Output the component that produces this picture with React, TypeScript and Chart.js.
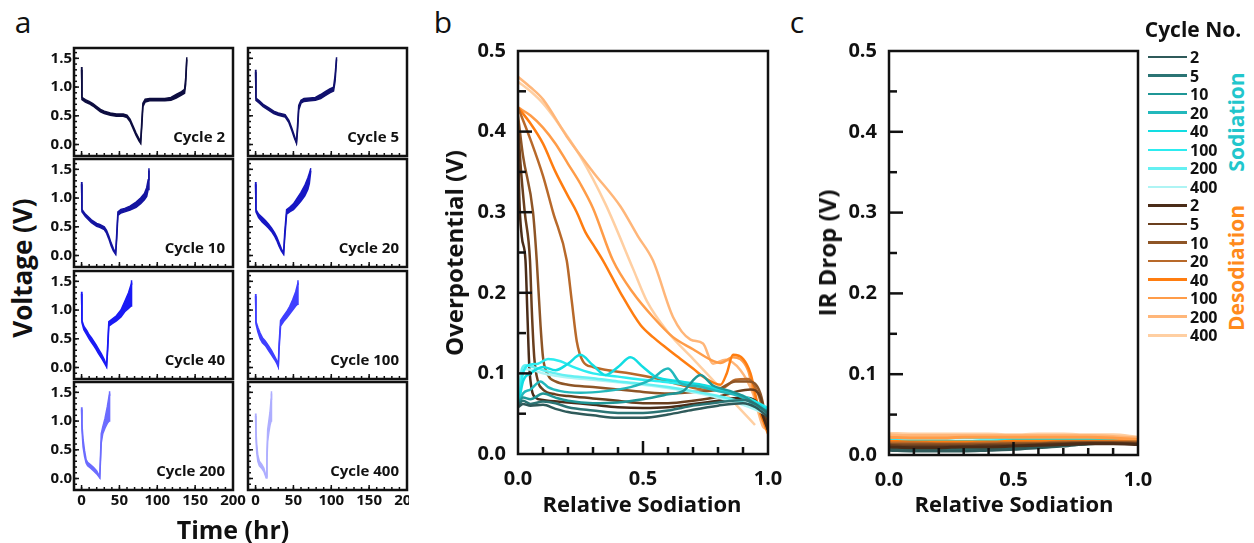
import React, { useEffect, useRef } from 'react';
import { Chart, registerables } from 'chart.js';

Chart.register(...registerables);

const FONT = "'Open Sans', 'DejaVu Sans', sans-serif";
const INK = '#111111';

// ---------------- Panel a : Voltage vs Time ----------------
const A_CYCLE_NAMES = ['Cycle 2', 'Cycle 5', 'Cycle 10', 'Cycle 20', 'Cycle 40', 'Cycle 100', 'Cycle 200', 'Cycle 400'];
const A_COLORS = ['#0d0d40', '#11116e', '#1414a0', '#1717c4', '#1a1af5', '#3f3fff', '#6c6cff', '#aeaeff'];
const A_X_TICKS = [0, 50, 100, 150, 200];
const A_Y_TICKS = [0, 0.5, 1.0, 1.5];
const A_X_MINOR = [0, 10, 20, 30, 40, 50, 60, 70, 80, 90, 100, 110, 120, 130, 140, 150, 160, 170, 180, 190];
const A_X_MAJOR = [0, 50, 100, 150];
const A_Y_MINOR = [-0.1, 0, 0.1, 0.2, 0.3, 0.4, 0.5, 0.6, 0.7, 0.8, 0.9, 1.0, 1.1, 1.2, 1.3, 1.4, 1.5, 1.6];
const A_Y_MAJOR = [0, 0.5, 1.0, 1.5];

const C2_T = [0, 0.5, 5, 10, 15, 20, 25, 30, 38, 46, 55, 60, 64, 68, 72, 76, 78, 79.5, 81, 84, 90, 100, 110, 118, 125, 132, 136, 137.5, 139];
const C2_UP = [1.35, 0.82, 0.78, 0.75, 0.71, 0.66, 0.61, 0.58, 0.55, 0.53, 0.53, 0.51, 0.44, 0.32, 0.2, 0.1, 0.04, 0.4, 0.72, 0.79, 0.8, 0.8, 0.8, 0.82, 0.87, 0.92, 0.96, 1.15, 1.52];
const C2_LO = [1.3, 0.78, 0.74, 0.71, 0.67, 0.62, 0.57, 0.54, 0.51, 0.49, 0.49, 0.47, 0.4, 0.28, 0.16, 0.06, 0.02, 0.3, 0.66, 0.74, 0.76, 0.76, 0.76, 0.77, 0.81, 0.86, 0.89, 1.05, 1.48];

const C5_T = [0, 0.5, 5, 10, 17, 24, 30, 39, 44, 48, 51, 54, 55.5, 57, 60, 64, 72, 79, 86, 92, 98, 103, 105, 107];
const C5_UP = [1.3, 0.81, 0.76, 0.7, 0.64, 0.58, 0.55, 0.52, 0.42, 0.28, 0.16, 0.04, 0.35, 0.68, 0.77, 0.8, 0.81, 0.82, 0.87, 0.92, 0.97, 1.0, 1.2, 1.52];
const C5_LO = [1.26, 0.77, 0.72, 0.66, 0.6, 0.54, 0.51, 0.48, 0.38, 0.24, 0.12, 0.02, 0.25, 0.6, 0.72, 0.75, 0.76, 0.77, 0.8, 0.85, 0.9, 0.93, 1.1, 1.48];

const C10_T = [0, 0.5, 5, 13, 20, 24, 30, 33, 36, 39, 42, 45, 46.5, 48, 52, 57, 64, 72, 78, 83, 86, 88, 89];
const C10_UP = [1.28, 0.8, 0.72, 0.62, 0.56, 0.54, 0.5, 0.44, 0.34, 0.22, 0.12, 0.04, 0.4, 0.76, 0.8, 0.82, 0.86, 0.93, 1.0, 1.08, 1.18, 1.32, 1.52];
const C10_LO = [1.24, 0.76, 0.68, 0.57, 0.51, 0.49, 0.45, 0.39, 0.29, 0.17, 0.08, 0.02, 0.3, 0.7, 0.74, 0.76, 0.79, 0.84, 0.9, 0.97, 1.03, 1.15, 1.48];

const C20_T = [0, 0.5, 4, 9, 13, 17, 21, 25, 28, 31, 34, 37, 38.5, 41, 45, 50, 55, 60, 65, 69, 71, 73];
const C20_UP = [1.28, 0.8, 0.72, 0.66, 0.61, 0.55, 0.48, 0.4, 0.32, 0.22, 0.12, 0.04, 0.4, 0.8, 0.84, 0.9, 1.0, 1.1, 1.22, 1.35, 1.43, 1.52];
const C20_LO = [1.24, 0.76, 0.66, 0.58, 0.53, 0.48, 0.42, 0.34, 0.26, 0.16, 0.08, 0.02, 0.3, 0.72, 0.76, 0.8, 0.87, 0.95, 1.04, 1.15, 1.25, 1.48];

const C40_T = [0, 0.5, 3, 7, 10, 13, 16, 19, 22, 26, 30, 33, 34.5, 36, 40, 46, 52, 57, 62, 65.5, 66];
const C40_UP = [1.32, 0.82, 0.72, 0.64, 0.57, 0.52, 0.46, 0.4, 0.33, 0.24, 0.14, 0.03, 0.4, 0.8, 0.84, 0.9, 1.0, 1.15, 1.3, 1.45, 1.52];
const C40_LO = [1.28, 0.78, 0.66, 0.57, 0.5, 0.44, 0.38, 0.32, 0.25, 0.17, 0.08, 0.01, 0.3, 0.72, 0.76, 0.81, 0.88, 0.97, 1.03, 1.07, 1.48];

const C100_T = [0, 0.5, 3, 6, 9, 13, 17, 21, 25, 28, 30, 31, 33, 37, 41, 45, 49, 53, 55.5, 56];
const C100_UP = [1.28, 0.8, 0.7, 0.6, 0.52, 0.46, 0.38, 0.3, 0.2, 0.12, 0.03, 0.4, 0.82, 0.9, 0.97, 1.06, 1.18, 1.32, 1.45, 1.52];
const C100_LO = [1.24, 0.76, 0.62, 0.5, 0.43, 0.38, 0.3, 0.22, 0.14, 0.07, 0.01, 0.3, 0.72, 0.8, 0.86, 0.93, 1.0, 1.07, 1.1, 1.48];

const C200_T = [0, 0.5, 2, 4, 6, 8, 12, 16, 20, 24, 25, 26, 28, 31, 34, 36.5, 37];
const C200_UP = [1.24, 0.95, 0.68, 0.48, 0.33, 0.28, 0.24, 0.19, 0.13, 0.03, 0.4, 0.78, 0.9, 1.05, 1.25, 1.45, 1.52];
const C200_LO = [1.2, 0.85, 0.55, 0.38, 0.27, 0.22, 0.18, 0.13, 0.08, 0.01, 0.3, 0.62, 0.78, 0.88, 0.96, 1.0, 1.48];

const C400_T = [0, 0.5, 1.5, 3, 5, 8, 11, 14, 15, 16, 17.5, 19, 20.5, 21];
const C400_UP = [1.13, 0.85, 0.6, 0.4, 0.3, 0.25, 0.18, 0.03, 0.45, 0.85, 1.0, 1.15, 1.38, 1.52];
const C400_LO = [1.09, 0.7, 0.45, 0.3, 0.22, 0.18, 0.12, 0.01, 0.3, 0.65, 0.8, 0.92, 1.0, 1.48];

const A_T = [C2_T, C5_T, C10_T, C20_T, C40_T, C100_T, C200_T, C400_T];
const A_UP = [C2_UP, C5_UP, C10_UP, C20_UP, C40_UP, C100_UP, C200_UP, C400_UP];
const A_LO = [C2_LO, C5_LO, C10_LO, C20_LO, C40_LO, C100_LO, C200_LO, C400_LO];

// ---------------- Legend / cycles ----------------
const CYCLE_LABELS = ['2', '5', '10', '20', '40', '100', '200', '400'];
const SOD_COLORS = ['#2f5a5a', '#2b7474', '#1f9696', '#22b8bc', '#12dde2', '#2cecf0', '#64f0f2', '#aef4f4'];
const DESOD_COLORS = ['#4a2c18', '#6a3f1e', '#8e5526', '#b8692a', '#ff7d10', '#ff9c48', '#ffb679', '#ffcfa2'];

// ---------------- Panel b : Overpotential ----------------
const OP_SOD_X = [
  [0, 0.02, 0.05, 0.1, 0.15, 0.2, 0.3, 0.4, 0.5, 0.6, 0.7, 0.8, 0.9, 0.95, 1.0],
  [0, 0.02, 0.05, 0.1, 0.15, 0.2, 0.3, 0.4, 0.5, 0.6, 0.7, 0.8, 0.9, 0.95, 1.0],
  [0, 0.02, 0.05, 0.1, 0.15, 0.2, 0.3, 0.4, 0.5, 0.6, 0.66, 0.73, 0.78, 0.85, 0.9, 0.95, 1.0],
  [0, 0.02, 0.05, 0.09, 0.12, 0.17, 0.25, 0.35, 0.45, 0.53, 0.6, 0.65, 0.72, 0.8, 0.9, 0.95, 1.0],
  [0, 0.02, 0.05, 0.1, 0.15, 0.2, 0.25, 0.3, 0.35, 0.4, 0.45, 0.5, 0.55, 0.65, 0.75, 0.85, 0.92, 1.0],
  [0, 0.02, 0.04, 0.08, 0.12, 0.17, 0.22, 0.3, 0.4, 0.5, 0.6, 0.7, 0.8, 0.9, 0.95, 1.0],
  [0, 0.015, 0.03, 0.06, 0.1, 0.15, 0.2, 0.3, 0.4, 0.5, 0.6, 0.7, 0.8, 0.9, 0.95, 1.0],
  [0, 0.015, 0.03, 0.06, 0.1, 0.15, 0.2, 0.3, 0.4, 0.5, 0.6, 0.7, 0.8, 0.9, 0.95, 1.0],
];
const OP_SOD_Y = [
  [0.058, 0.062, 0.06, 0.061, 0.056, 0.052, 0.048, 0.045, 0.045, 0.049, 0.055, 0.06, 0.063, 0.058, 0.046],
  [0.06, 0.066, 0.062, 0.065, 0.063, 0.058, 0.054, 0.051, 0.051, 0.054, 0.06, 0.064, 0.067, 0.062, 0.05],
  [0.06, 0.07, 0.068, 0.075, 0.07, 0.066, 0.063, 0.064, 0.068, 0.074, 0.078, 0.098, 0.085, 0.078, 0.072, 0.062, 0.052],
  [0.06, 0.075, 0.08, 0.09, 0.083, 0.078, 0.076, 0.078, 0.083, 0.092, 0.106, 0.088, 0.084, 0.078, 0.07, 0.06, 0.053],
  [0.058, 0.09, 0.1, 0.108, 0.104, 0.112, 0.123, 0.11, 0.098, 0.108, 0.12, 0.108, 0.096, 0.09, 0.085, 0.076, 0.068, 0.055],
  [0.06, 0.1, 0.11, 0.112, 0.118, 0.115, 0.108, 0.1, 0.096, 0.092, 0.089, 0.085, 0.08, 0.072, 0.065, 0.057],
  [0.065, 0.105, 0.11, 0.108, 0.104, 0.1, 0.097, 0.094, 0.09, 0.087, 0.083, 0.078, 0.072, 0.064, 0.058, 0.05],
  [0.07, 0.1, 0.105, 0.104, 0.1, 0.097, 0.095, 0.092, 0.089, 0.086, 0.082, 0.077, 0.07, 0.061, 0.055, 0.048],
];
const OP_DESOD_X = [
  [0, 0.005, 0.015, 0.03, 0.038, 0.045, 0.055, 0.07, 0.1, 0.2, 0.3, 0.4, 0.5, 0.6, 0.7, 0.8, 0.9, 0.95, 1.0],
  [0, 0.01, 0.027, 0.048, 0.055, 0.065, 0.08, 0.1, 0.15, 0.2, 0.3, 0.4, 0.5, 0.6, 0.7, 0.8, 0.88, 0.93, 0.97, 1.0],
  [0, 0.02, 0.06, 0.075, 0.09, 0.1, 0.12, 0.15, 0.2, 0.3, 0.4, 0.5, 0.6, 0.7, 0.8, 0.87, 0.92, 0.97, 1.0],
  [0, 0.05, 0.1, 0.14, 0.195, 0.215, 0.235, 0.26, 0.3, 0.36, 0.45, 0.55, 0.65, 0.75, 0.82, 0.87, 0.92, 0.96, 1.0],
  [0, 0.05, 0.1, 0.15, 0.2, 0.235, 0.27, 0.3, 0.34, 0.41, 0.49, 0.54, 0.6, 0.65, 0.7, 0.75, 0.81, 0.835, 0.86, 0.9, 0.93, 0.96, 1.0],
  [0, 0.05, 0.1, 0.15, 0.2, 0.25, 0.3, 0.38, 0.46, 0.54, 0.62, 0.7, 0.77, 0.81, 0.86, 0.92, 0.94, 0.97, 1.0],
  [0, 0.05, 0.1, 0.195, 0.3, 0.41, 0.48, 0.54, 0.62, 0.69, 0.74, 0.78, 0.83, 0.89, 0.94, 0.98, 1.0],
  [0, 0.05, 0.1, 0.15, 0.25, 0.35, 0.46, 0.515, 0.6, 0.7, 0.8, 0.9, 0.948],
];
const OP_DESOD_Y = [
  [0.4, 0.32, 0.27, 0.24, 0.17, 0.11, 0.08, 0.07, 0.067, 0.064, 0.061, 0.058, 0.057, 0.058, 0.062, 0.066, 0.07, 0.066, 0.03],
  [0.41, 0.36, 0.3, 0.24, 0.18, 0.12, 0.09, 0.08, 0.074, 0.072, 0.069, 0.066, 0.063, 0.063, 0.066, 0.071, 0.078, 0.08, 0.07, 0.03],
  [0.42, 0.37, 0.3, 0.24, 0.16, 0.12, 0.098, 0.09, 0.086, 0.083, 0.08, 0.077, 0.075, 0.077, 0.08, 0.09, 0.09, 0.075, 0.03],
  [0.43, 0.39, 0.345, 0.3, 0.24, 0.19, 0.14, 0.115, 0.108, 0.104, 0.1, 0.094, 0.086, 0.08, 0.082, 0.092, 0.093, 0.075, 0.03],
  [0.43, 0.41, 0.385, 0.35, 0.32, 0.3, 0.275, 0.26, 0.24, 0.2, 0.16, 0.145, 0.13, 0.118, 0.106, 0.094, 0.086, 0.1, 0.123, 0.118, 0.1, 0.06, 0.025],
  [0.43, 0.42, 0.405, 0.385, 0.36, 0.335, 0.305, 0.24, 0.2, 0.17, 0.145, 0.13, 0.117, 0.113, 0.12, 0.104, 0.08, 0.05, 0.035],
  [0.468, 0.455, 0.44, 0.394, 0.35, 0.307, 0.27, 0.24, 0.17, 0.142, 0.137, 0.112, 0.117, 0.104, 0.075, 0.034, 0.03],
  [0.462, 0.45, 0.435, 0.415, 0.369, 0.31, 0.23, 0.19, 0.151, 0.118, 0.085, 0.052, 0.036],
];

// ---------------- Panel c : IR drop ----------------
const IR_X = [0, 0.1, 0.2, 0.3, 0.4, 0.5, 0.6, 0.7, 0.8, 0.9, 1.0];
const IR_SOD_Y = [
  [0.006, 0.005, 0.005, 0.005, 0.006, 0.007, 0.009, 0.011, 0.014, 0.015, 0.014],
  [0.008, 0.007, 0.007, 0.007, 0.008, 0.009, 0.01, 0.012, 0.014, 0.015, 0.015],
  [0.01, 0.009, 0.009, 0.009, 0.01, 0.011, 0.012, 0.013, 0.015, 0.016, 0.015],
  [0.013, 0.012, 0.012, 0.012, 0.012, 0.013, 0.014, 0.015, 0.016, 0.016, 0.016],
  [0.018, 0.017, 0.017, 0.017, 0.017, 0.018, 0.018, 0.018, 0.018, 0.018, 0.017],
  [0.022, 0.021, 0.021, 0.022, 0.021, 0.021, 0.021, 0.021, 0.02, 0.02, 0.019],
  [0.024, 0.023, 0.023, 0.024, 0.023, 0.023, 0.023, 0.022, 0.022, 0.021, 0.02],
  [0.021, 0.021, 0.021, 0.022, 0.021, 0.021, 0.021, 0.021, 0.02, 0.02, 0.019],
];
const IR_DESOD_Y = [
  [0.01, 0.009, 0.009, 0.01, 0.01, 0.011, 0.012, 0.013, 0.014, 0.014, 0.013],
  [0.012, 0.011, 0.011, 0.011, 0.012, 0.012, 0.013, 0.014, 0.015, 0.015, 0.014],
  [0.013, 0.013, 0.013, 0.013, 0.013, 0.014, 0.014, 0.015, 0.015, 0.015, 0.015],
  [0.015, 0.015, 0.014, 0.014, 0.015, 0.015, 0.015, 0.016, 0.016, 0.016, 0.016],
  [0.017, 0.016, 0.016, 0.016, 0.016, 0.017, 0.017, 0.017, 0.017, 0.017, 0.016],
  [0.022, 0.021, 0.021, 0.022, 0.022, 0.022, 0.022, 0.022, 0.022, 0.021, 0.019],
  [0.025, 0.024, 0.024, 0.024, 0.024, 0.024, 0.024, 0.024, 0.024, 0.023, 0.021],
  [0.027, 0.026, 0.026, 0.026, 0.026, 0.025, 0.026, 0.026, 0.025, 0.025, 0.022],
];

const BC_Y_TICKS = [0, 0.1, 0.2, 0.3, 0.4, 0.5];
const BC_X_TICKS = [0, 0.5, 1.0];
const BC_Y_MAJOR = [0.1, 0.2, 0.3, 0.4];
const BC_Y_MINOR = [0.05, 0.15, 0.25, 0.35, 0.45];
const BC_X_MAJOR = [0.5];
const BC_X_MINOR = [0.1, 0.2, 0.3, 0.4, 0.6, 0.7, 0.8, 0.9];

// ---------------- helpers ----------------
type Mark = [number, number];

function frameTicks(xMarks: Mark[], yMarks: Mark[], lw: number, tw: number) {
  return {
    id: 'frameTicks',
    afterDatasetsDraw(chart: any) {
      const { ctx, chartArea: ca } = chart;
      const xs = chart.scales.x;
      const ys = chart.scales.y;
      ctx.save();
      ctx.strokeStyle = INK;
      ctx.lineWidth = tw;
      for (const [v, len] of xMarks) {
        const p = xs.getPixelForValue(v);
        ctx.beginPath();
        ctx.moveTo(p, ca.bottom);
        ctx.lineTo(p, ca.bottom - len);
        ctx.stroke();
      }
      for (const [v, len] of yMarks) {
        const p = ys.getPixelForValue(v);
        ctx.beginPath();
        ctx.moveTo(ca.left, p);
        ctx.lineTo(ca.left + len, p);
        ctx.stroke();
      }
      ctx.lineWidth = lw;
      ctx.strokeRect(ca.left, ca.top, ca.right - ca.left, ca.bottom - ca.top);
      ctx.restore();
    },
  };
}

function axis(min: number, max: number, vals: number[], show: boolean, size: number, pad: number, fit: number, isX: boolean, fmt: (v: number) => string) {
  return {
    type: 'linear',
    min,
    max,
    grid: { display: false, drawTicks: false },
    border: { display: false },
    afterBuildTicks: (s: any) => {
      s.ticks = vals.map((v) => ({ value: v }));
    },
    afterFit: (s: any) => {
      if (isX) s.height = fit;
      else s.width = fit;
      s.paddingLeft = 0;
      s.paddingRight = 0;
      s.paddingTop = 0;
      s.paddingBottom = 0;
    },
    ticks: {
      display: show,
      autoSkip: false,
      maxRotation: 0,
      minRotation: 0,
      padding: pad,
      color: INK,
      font: { family: FONT, size, weight: 'bold' },
      callback: (v: any) => fmt(Number(v)),
    },
  };
}

const fmtInt = (v: number) => String(Math.round(v));
const fmt1 = (v: number) => v.toFixed(1);

type Box = { left: number; top: number; width: number; height: number };

function ChartCanvas({ box, make }: { box: Box; make: () => any }) {
  const ref = useRef<HTMLCanvasElement | null>(null);
  useEffect(() => {
    if (!ref.current) return;
    const chart = new Chart(ref.current, make());
    return () => chart.destroy();
  }, []);
  return (
    <canvas
      ref={ref}
      width={box.width}
      height={box.height}
      style={{ position: 'absolute', left: box.left, top: box.top, width: box.width, height: box.height }}
    />
  );
}

// layout
const A_COL_LEFT = [74, 248];
const A_COL_PR = [14, 2];
const A_ROW_TOP = [48, 159, 271, 382];
const A_FW = 159;
const A_FH = 108;
const A_YW = 34;
const A_XH = 24;
const A_PT = 4;

function smallConfig(i: number, showY: boolean, showX: boolean, pr: number) {
  const col = A_COLORS[i];
  const up = A_T[i].map((x, j) => ({ x, y: A_UP[i][j] }));
  const lo = A_T[i].map((x, j) => ({ x, y: A_LO[i][j] }));
  const xMarks: Mark[] = [...A_X_MINOR.map((v) => [v, 3] as Mark), ...A_X_MAJOR.map((v) => [v, 5] as Mark)];
  const yMarks: Mark[] = [...A_Y_MINOR.map((v) => [v, 3] as Mark), ...A_Y_MAJOR.map((v) => [v, 5] as Mark)];
  return {
    type: 'line',
    data: {
      datasets: [
        { data: up, borderColor: col, backgroundColor: col, borderWidth: 1.5, pointRadius: 0, fill: false, tension: 0 },
        { data: lo, borderColor: col, backgroundColor: col, borderWidth: 1.5, pointRadius: 0, fill: '-1', tension: 0 },
      ],
    },
    options: {
      responsive: false,
      animation: false,
      devicePixelRatio: 1,
      events: [],
      layout: { padding: { top: A_PT, right: pr, left: 0, bottom: 0 }, autoPadding: false },
      plugins: { legend: { display: false }, tooltip: { enabled: false } },
      scales: {
        x: axis(-10, 200, A_X_TICKS, showX, 15, 2, A_XH, true, fmtInt),
        y: axis(-0.2, 1.68, A_Y_TICKS, showY, 15, 2, A_YW, false, fmt1),
      },
    },
    plugins: [frameTicks(xMarks, yMarks, 2.5, 1.5)],
  };
}

function bigConfig(datasets: any[]) {
  const xMarks: Mark[] = [...BC_X_MINOR.map((v) => [v, 7] as Mark), ...BC_X_MAJOR.map((v) => [v, 13] as Mark)];
  const yMarks: Mark[] = [...BC_Y_MINOR.map((v) => [v, 8] as Mark), ...BC_Y_MAJOR.map((v) => [v, 14] as Mark)];
  return {
    type: 'line',
    data: { datasets },
    options: {
      responsive: false,
      animation: false,
      devicePixelRatio: 1,
      events: [],
      layout: { padding: { top: 20, right: 20, left: 0, bottom: 0 }, autoPadding: false },
      plugins: { legend: { display: false }, tooltip: { enabled: false } },
      scales: {
        x: axis(0, 1, BC_X_TICKS, true, 20, 13, 45, true, fmt1),
        y: axis(0, 0.5, BC_Y_TICKS, true, 20, 12, 55, false, fmt1),
      },
    },
    plugins: [frameTicks(xMarks, yMarks, 2.5, 2.5)],
  };
}

function lineSet(xs: number[], ys: number[], color: string, width: number) {
  return {
    data: xs.map((x, j) => ({ x, y: ys[j] })),
    borderColor: color,
    backgroundColor: color,
    borderWidth: width,
    pointRadius: 0,
    fill: false,
    cubicInterpolationMode: 'monotone',
  };
}

function panelBConfig() {
  const ds = [
    ...OP_SOD_X.map((xs, i) => lineSet(xs, OP_SOD_Y[i], SOD_COLORS[i], 2.5)),
    ...OP_DESOD_X.map((xs, i) => lineSet(xs, OP_DESOD_Y[i], DESOD_COLORS[i], 2.5)),
  ];
  return bigConfig(ds);
}

function panelCConfig() {
  const ds = [
    ...IR_DESOD_Y.map((ys, i) => lineSet(IR_X, ys, DESOD_COLORS[i], 3)),
    ...IR_SOD_Y.map((ys, i) => lineSet(IR_X, ys, SOD_COLORS[i], 3)),
  ];
  return bigConfig(ds);
}

function Txt({ x, y, text, size, bold = true, color = INK, rotate = false }: { x: number; y: number; text: string; size: number; bold?: boolean; color?: string; rotate?: boolean }) {
  return (
    <div
      style={{
        position: 'absolute',
        left: x,
        top: y,
        transform: `translate(-50%, -50%)${rotate ? ' rotate(-90deg)' : ''}`,
        fontFamily: FONT,
        fontSize: size,
        fontWeight: bold ? 700 : 400,
        color,
        lineHeight: 1,
        whiteSpace: 'nowrap',
      }}
    >
      {text}
    </div>
  );
}

export default function App() {
  useEffect(() => {
    document.body.style.margin = '0';
  }, []);

  const small = A_CYCLE_NAMES.map((name, i) => {
    const c = i % 2;
    const r = Math.floor(i / 2);
    const left = A_COL_LEFT[c];
    const top = A_ROW_TOP[r];
    const pr = A_COL_PR[c];
    const box = { left: left - A_YW, top: top - A_PT, width: A_YW + A_FW + pr, height: A_PT + A_FH + A_XH };
    return (
      <React.Fragment key={name}>
        <ChartCanvas box={box} make={() => smallConfig(i, c === 0, r === 3, pr)} />
        <div
          style={{
            position: 'absolute',
            right: 1254 - (left + A_FW - 8),
            top: top + A_FH - 20,
            transform: 'translateY(-50%)',
            fontFamily: FONT,
            fontWeight: 700,
            fontSize: 15,
            color: INK,
            lineHeight: 1,
            whiteSpace: 'nowrap',
          }}
        >
          {name}
        </div>
      </React.Fragment>
    );
  });

  const legendRows = [
    ...CYCLE_LABELS.map((l, i) => ({ label: l, color: SOD_COLORS[i] })),
    ...CYCLE_LABELS.map((l, i) => ({ label: l, color: DESOD_COLORS[i] })),
  ];

  return (
    <div style={{ position: 'relative', width: 1254, height: 543, overflow: 'hidden', background: '#fff' }}>
      {small}
      <ChartCanvas box={{ left: 463, top: 31, width: 325, height: 468 }} make={panelBConfig} />
      <ChartCanvas box={{ left: 834, top: 31, width: 324, height: 469 }} make={panelCConfig} />

      <Txt x={23} y={22} text="a" size={30} bold={false} />
      <Txt x={443} y={22} text="b" size={30} bold={false} />
      <Txt x={797} y={22} text="c" size={30} bold={false} />

      <Txt x={22} y={268} text="Voltage (V)" size={26} rotate />
      <Txt x={233} y={529} text="Time (hr)" size={25} />
      <Txt x={454} y={253} text="Overpotential (V)" size={24} rotate />
      <Txt x={642} y={503} text="Relative Sodiation" size={22} />
      <Txt x={827} y={253} text="IR Drop (V)" size={24} rotate />
      <Txt x={1014} y={503} text="Relative Sodiation" size={22} />

      <Txt x={1193} y={29} text="Cycle No." size={21} />
      <Txt x={1236} y={122} text="Sodiation" size={21} color="#22c6cc" rotate />
      <Txt x={1236} y={268} text="Desodiation" size={21} color="#ff8a1c" rotate />

      {legendRows.map((row, i) => {
        const cy = 57 + i * 18.55;
        return (
          <React.Fragment key={`lg${i}`}>
            <div style={{ position: 'absolute', left: 1148, top: cy - 1.25, width: 39, height: 2.5, background: row.color }} />
            <div
              style={{
                position: 'absolute',
                left: 1190,
                top: cy,
                transform: 'translateY(-50%)',
                fontFamily: FONT,
                fontWeight: 700,
                fontSize: 16,
                color: INK,
                lineHeight: 1,
              }}
            >
              {row.label}
            </div>
          </React.Fragment>
        );
      })}
    </div>
  );
}
